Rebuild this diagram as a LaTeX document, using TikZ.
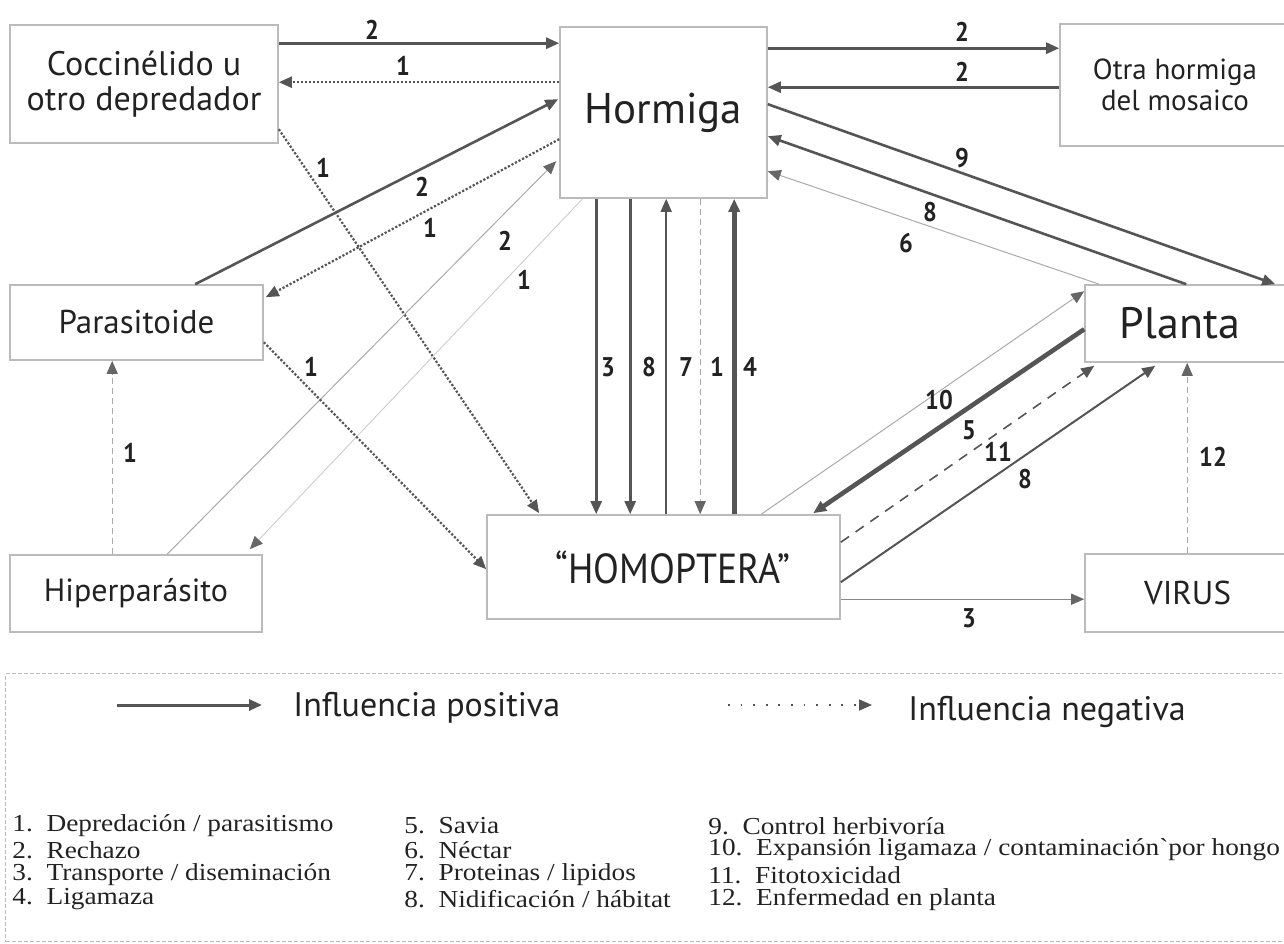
\documentclass[tikz,border=0pt]{standalone}
\usepackage{fontspec}
\setmainfont{PT Sans}
\newfontfamily\condf{PT Sans}[FakeStretch=0.9]
\newfontfamily\legfont{Liberation Serif}[FakeStretch=1.12]
\usetikzlibrary{arrows.meta,calc}
\definecolor{boxc}{HTML}{BBBBBB}
\definecolor{linec}{HTML}{555555}
\definecolor{tipc}{HTML}{666666}
\definecolor{lightc}{HTML}{AAAAAA}
\definecolor{vlightc}{HTML}{CCCCCC}
\definecolor{txtc}{HTML}{222222}
\begin{document}
\begin{tikzpicture}[x=0.5pt,y=-0.5pt,
  box/.style={draw=boxc,line width=0.8pt,inner sep=0pt,align=center,text=txtc},
  lab/.style={font=\condf\bfseries\fontsize{13.5}{14}\selectfont,text=txtc,inner sep=0pt},
  tipk/.style={-{Triangle[length=6.5pt,width=5.5pt,color=#1]}},
  arrpos/.style={draw=linec,line width=1.3pt,tipk=linec},
  arrthick/.style={draw=linec,line width=2.3pt,tipk=linec},
  arrmed/.style={draw=linec,line width=0.8pt,tipk=linec},
  arrneg/.style={draw=linec,line width=1.1pt,dash pattern=on 1.1pt off 0.9pt,tipk=linec},
  arrthin/.style={draw=lightc,line width=0.5pt,tipk=tipc},
  arrvthin/.style={draw=vlightc,line width=0.45pt,tipk=tipc},
  arrdl/.style={draw=lightc,line width=0.55pt,dash pattern=on 3pt off 2pt,tipk=tipc},
  arrdash/.style={draw=linec,line width=0.8pt,dash pattern=on 5pt off 4pt,tipk=linec},
  legtxt/.style={font=\legfont\fontsize{12.2}{13}\selectfont,text=txtc,anchor=west,inner sep=0pt},
  leghead/.style={font=\fontsize{17}{19}\selectfont,text=txtc,anchor=west,inner sep=0pt}
]
\useasboundingbox (0,0) rectangle (1284,943);

% boxes
\node[box,minimum width=134pt,minimum height=59pt,font=\fontsize{17}{17.5}\selectfont] (coc) at (144,84) {Coccinélido u\\otro depredador};
\node[box,minimum width=103.5pt,minimum height=85.5pt,font=\fontsize{21.5}{24}\selectfont] (horm) at (663.5,112.5) {Hormiga};
\node[box,minimum width=115pt,minimum height=61pt,font=\fontsize{14.5}{15.5}\selectfont] (otra) at (1175,85) {Otra hormiga\\del mosaico};
\node[box,minimum width=126.5pt,minimum height=37.5pt,font=\fontsize{16.5}{18}\selectfont] (para) at (136.5,322.5) {Parasitoide};
\node[box,minimum width=102.5pt,minimum height=38.5pt,font=\fontsize{22}{24}\selectfont] (planta) at (1187.5,323.5) {Planta\kern7.5pt};
\node[box,minimum width=126pt,minimum height=38.5pt,font=\fontsize{16}{18}\selectfont] (hiper) at (136,593.5) {Hiperparásito};
\node[box,minimum width=176.5pt,minimum height=52pt,font=\condf\fontsize{21}{24}\selectfont] (homo) at (663.5,567) {\kern9.5pt\raisebox{-10pt}{“HOMOPTERA”}};
\node[box,minimum width=102.5pt,minimum height=39pt,font=\fontsize{16.5}{18}\selectfont] (virus) at (1187.5,593) {VIRUS};

% top row
\draw[arrpos] ($(coc.north east)+(0,19)$) -- ($(horm.north west)+(0,17)$);
\draw[arrneg] ($(horm.north west)+(0,56)$) -- ($(coc.north east)+(0,58)$);
\draw[arrpos] ($(horm.north east)+(0,22)$) -- ($(otra.north west)+(0,25)$);
\draw[arrpos] ($(otra.north west)+(0,64)$) -- ($(horm.north east)+(0,61)$);
% hormiga - planta
\draw[arrpos] ($(horm.north east)+(0,78)$) -- ($(planta.north west)+(191,0)$);
\draw[arrpos] ($(planta.north west)+(102,0)$) -- ($(horm.north east)+(0,110)$);
\draw[arrthin] ($(planta.north west)+(15,0)$) -- ($(horm.north east)+(0,145)$);
% left diagonals
\draw[arrpos] ($(para.north west)+(186,0)$) -- ($(horm.north west)+(-1,73)$);
\draw[arrneg] ($(horm.north west)+(0,113)$) -- ($(para.north east)+(2,13)$);
\draw[arrneg] ($(coc.north east)+(0,105)$) -- ($(homo.north west)+(53,-1)$);
\draw[arrthin] ($(hiper.north west)+(158,0)$) -- ($(horm.north west)+(-3,135)$);
\draw[arrvthin] ($(horm.north west)+(23,173)$) -- ($(hiper.north east)+(-13,-5)$);
\draw[arrneg] ($(para.north east)+(0,58)$) -- ($(homo.north west)+(0,55)$);
\draw[arrdl] ($(hiper.north west)+(103,0)$) -- ($(para.south west)+(103,0)$);
% verticals
\draw[arrpos] ($(horm.south west)+(37,0)$) -- ($(homo.north west)+(110,0)$);
\draw[arrpos] ($(horm.south west)+(71,0)$) -- ($(homo.north west)+(144,0)$);
\draw[arrmed] ($(homo.north west)+(180,0)$) -- ($(horm.south west)+(107,0)$);
\draw[arrdl] ($(horm.south west)+(141,0)$) -- ($(homo.north west)+(214,0)$);
\draw[arrthick] ($(homo.north west)+(248,0)$) -- ($(horm.south west)+(175,0)$);
% homoptera - planta
\draw[arrthin] ($(homo.north west)+(275,0)$) -- ($(planta.north west)+(0,7)$);
\draw[arrthick] ($(planta.north west)+(0,45)$) -- ($(homo.north west)+(327,-1)$);
\draw[arrdash] ($(homo.north east)+(0,28)$) -- ($(planta.south west)+(10,3)$);
\draw[arrpos,line width=1pt] ($(homo.north east)+(0,68)$) -- ($(planta.south west)+(71,3)$);
\draw[arrdl] ($(virus.north west)+(103,0)$) -- ($(planta.south west)+(103,0)$);
\draw[arrthin,draw=lightc!80!black,line width=0.7pt] ($(homo.north east)+(0,85)$) -- ($(virus.north west)+(0,46)$);

% labels
\node[lab] (l1) at (372,30) {2};
\node[lab] (l2) at (403,66) {1};
\node[lab] (l3) at (962,32) {2};
\node[lab] (l4) at (962,72) {2};
\node[lab] (l5) at (962,158) {9};
\node[lab] (l6) at (930,212) {8};
\node[lab] (l7) at (906,243) {6};
\node[lab] (l8) at (422,187) {2};
\node[lab] (l9) at (430,228) {1};
\node[lab] (l10) at (323,168) {1};
\node[lab] (l11) at (505,241) {2};
\node[lab] (l12) at (524,280) {1};
\node[lab] (l13) at (311,367) {1};
\node[lab] (l14) at (130,453) {1};
\node[lab] (l15) at (608,367) {3};
\node[lab] (l16) at (649,367) {8};
\node[lab] (l17) at (686,367) {7};
\node[lab] (l18) at (717,367) {1};
\node[lab] (l19) at (750,367) {4};
\node[lab] (l20) at (939,400) {10};
\node[lab] (l21) at (969,430) {5};
\node[lab] (l22) at (998,452) {11};
\node[lab] (l23) at (1025,479) {8};
\node[lab] (l24) at (1213,457) {12};
\node[lab] (l25) at (969,618) {3};

% legend
\node[draw=boxc,line width=0.6pt,dash pattern=on 2pt off 1pt,minimum width=645pt,minimum height=134pt,inner sep=0pt,anchor=north west] (leg) at (5,673) {};
\coordinate (pa) at (117,705);
\coordinate (pb) at (262,705);
\coordinate (na) at (728,705);
\coordinate (nb) at (872,705);
\draw[arrpos,line width=1.5pt] (pa) -- (pb);
\draw[draw=linec,line width=0.9pt,dash pattern=on 0.9pt off 5.4pt,tipk=linec] (na) -- (nb);
\node[leghead] (lpos) at (293,708) {Influencia positiva};
\node[leghead] (lneg) at (908,712) {Influencia negativa};

\node[legtxt] (t1) at (12,826) {1.\ \ Depredación / parasitismo};
\node[legtxt] (t2) at (12,850) {2.\ \ Rechazo};
\node[legtxt] (t3) at (12,875) {3.\ \ Transporte / diseminación};
\node[legtxt] (t4) at (12,899) {4.\ \ Ligamaza};
\node[legtxt] (t5) at (404,826) {5.\ \ Savia};
\node[legtxt] (t6) at (404,850) {6.\ \ Néctar};
\node[legtxt] (t7) at (404,875) {7.\ \ Proteinas / lipidos};
\node[legtxt] (t8) at (404,899) {8.\ \ Nidificación / hábitat};
\node[legtxt] (t9) at (708,826) {9.\ \ Control herbivoría};
\node[legtxt] (t10) at (708,850) {10.\ \ Expansión ligamaza / contaminación`por hongo};
\node[legtxt] (t11) at (708,875) {11.\ \ Fitotoxicidad};
\node[legtxt] (t12) at (708,899) {12.\ \ Enfermedad en planta};
\end{tikzpicture}
\end{document}
